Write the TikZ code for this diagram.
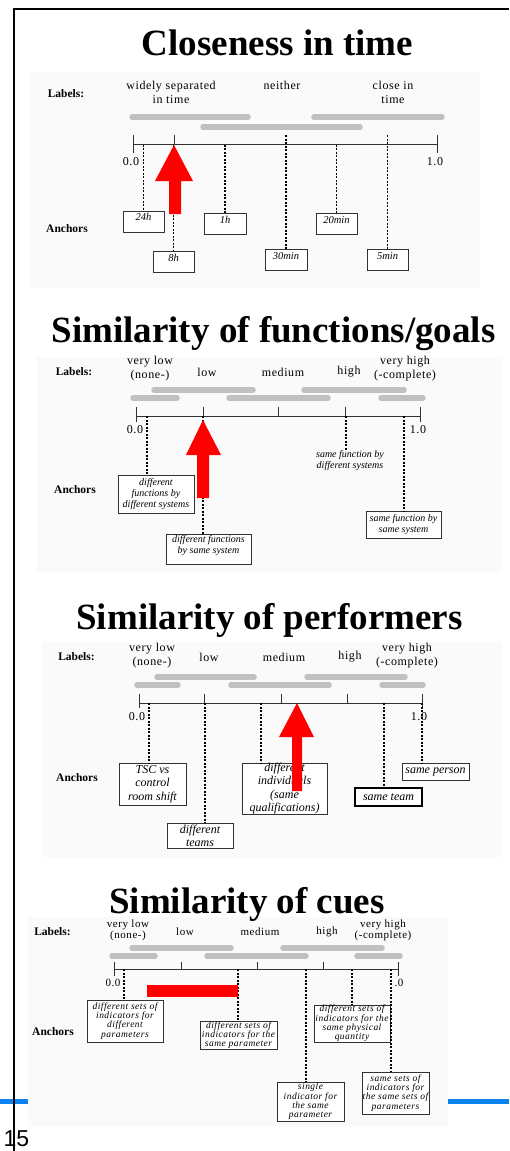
\documentclass[tikz,border=0pt]{standalone}
\usepackage{fontspec}
\setmainfont{Liberation Serif}
\newfontfamily\lblfont[LetterSpace=5]{Liberation Serif}
\newfontfamily\numfont{Liberation Sans}
\definecolor{barg}{RGB}{192,192,192}
\definecolor{axc}{RGB}{50,50,50}
\definecolor{panelc}{RGB}{250,250,250}
\definecolor{blueln}{RGB}{10,130,240}
\begin{document}
\begin{tikzpicture}[x=1pt,y=-1pt,
  ttl/.style={font=\bfseries\fontsize{37}{40}\selectfont, inner sep=0, anchor=base},
  hdr/.style={font=\bfseries\fontsize{11.5}{13}\selectfont, inner sep=0},
  lbl/.style={font=\lblfont\fontsize{12}{14}\selectfont, align=center, inner sep=0},
  lblsm/.style={font=\lblfont\fontsize{11}{11}\selectfont, align=center, inner sep=0},
  bar/.style={line width=5.5pt, line cap=round, draw=barg},
  axisl/.style={line width=0.8pt, draw=axc},
  anl/.style={line width=1.3pt, dash pattern=on 2.2pt off 1.3pt, draw=black},
  abox/.style={draw=axc, line width=0.8pt, fill=white, inner sep=0, align=center},
  boxa/.style={abox, font=\itshape\fontsize{10.5}{12}\selectfont, text height=9.5pt, text depth=11.5pt},
  boxb/.style={abox, font=\itshape\fontsize{10}{11}\selectfont},
  boxc/.style={abox, font=\itshape\fontsize{12}{13.3}\selectfont},
  boxd/.style={abox, font=\lblfont\itshape\fontsize{9.5}{9.3}\selectfont},
  redarr/.style={fill=red, draw=none},
  panel/.style={fill=panelc, draw=none}]
\useasboundingbox (0,0) rectangle (509,1151);

% background panels
\fill[panel] (30,72) rectangle (480,288);
\fill[panel] (37,357) rectangle (502,572);
\fill[panel] (42,643) rectangle (502,857);
\fill[panel] (28,917) rectangle (448,1127);

% blue rule and page number
\draw[draw=blueln, line width=4.5pt] (0,1101.5) -- (28,1101.5);
\draw[draw=blueln, line width=4.5pt] (448,1101.5) -- (509,1101.5);
\node[font=\numfont\fontsize{23}{23}\selectfont, anchor=base, inner sep=0] (pg) at (16.5,1146) {15};
% frame
\draw[line width=2pt] (14,1151) -- (14,9) -- (509,9);

% titles
\node[ttl] (t1) at (277.5,55) {Closeness in time};
\node[ttl] (t2) at (273.5,342) {Similarity of functions/goals};
\node[ttl] (t3) at (269.5,629) {Similarity of performers};
\node[ttl] (t4) at (247,913) {Similarity of cues};

%%%%%%%%%%%%%%%% Diagram 1
\node[hdr] (h1) at (66,94) {Labels:};
\node[hdr] (k1) at (67,229) {Anchors};
\node[lbl] (l1a) at (171,92) {widely separated\\in time};
\node[lbl] (l1b) at (282,85) {neither};
\node[lbl] (l1c) at (393,92) {close in\\time};
\draw[bar] (132,117) -- (248,117);
\draw[bar] (203,127) -- (360,127);
\draw[bar] (314,117) -- (442,117);
\coordinate (a1s) at (133,144.5);
\coordinate (a1e) at (437,144.5);
\draw[axisl] (a1s) -- (a1e);
\draw[axisl] (133,135) -- (133,153);
\draw[axisl] (437,135) -- (437,153);
\draw[axisl] (174,135) -- (174,144.5);
\node[lbl] (z1) at (131,162) {0.0};
\node[lbl] (o1) at (435,162) {1.0};
\node[boxa, minimum width=41pt] (b1a) at (143.5,221.5) {24h};
\node[boxa, minimum width=41pt] (b1b) at (173.5,262) {8h};
\node[boxa, minimum width=42pt] (b1c) at (225,224) {1h};
\node[boxa, minimum width=42pt] (b1d) at (286,260) {30min};
\node[boxa, minimum width=41pt] (b1e) at (336.5,224) {20min};
\node[boxa, minimum width=41pt] (b1f) at (387.5,260) {5min};
\coordinate (c1a) at (143.5,144.5);
\coordinate (c1b) at (173.5,144.5);
\coordinate (c1c) at (225,144.5);
\coordinate (c1d) at (286,135);
\coordinate (c1e) at (336.5,144.5);
\coordinate (c1f) at (387.5,135);
\draw[anl, line width=0.8pt] (c1a) -- (b1a.north);
\draw[anl] (c1b) -- (b1b.north);
\draw[anl] (c1c) -- (b1c.north);
\draw[anl] (c1d) -- (b1d.north);
\draw[anl] (c1e) -- (b1e.north);
\draw[anl] (c1f) -- (b1f.north);
\fill[redarr] (174,145) -- (193,181) -- (181,181) -- (181,214) -- (169,214) -- (169,181) -- (155,181) -- cycle;

%%%%%%%%%%%%%%%% Diagram 2
\node[hdr] (h2) at (74,372) {Labels:};
\node[hdr] (k2) at (75,490) {Anchors};
\node[lbl] (l2a) at (150,369) {very low\\(none-)};
\node[lbl] (l2b) at (207,372) {low};
\node[lbl] (l2c) at (283,372) {medium};
\node[lbl] (l2d) at (349,372) {high};
\node[lbl] (l2e) at (405,369) {very high\\(-complete)};
\draw[bar] (154,390) -- (253,390);
\draw[bar] (304,390) -- (404,390);
\draw[bar] (133,398) -- (177,398);
\draw[bar] (229,398) -- (328,398);
\draw[bar] (381,398) -- (423,398);
\coordinate (a2s) at (136,416);
\coordinate (a2e) at (420,416);
\draw[axisl] (a2s) -- (a2e);
\draw[axisl] (136,407) -- (136,422);
\draw[axisl] (420,407) -- (420,422);
\draw[axisl] (203,407) -- (203,416);
\draw[axisl] (278,407) -- (278,416);
\draw[axisl] (345,407) -- (345,416);
\node[lbl] (z2) at (135,430) {0.0};
\node[lbl] (o2) at (418,430) {1.0};
\node[boxb, minimum width=76pt, minimum height=38pt] (b2a) at (156,494) {different\\functions by\\different systems};
\node[boxb, minimum width=85pt, minimum height=30pt, text depth=10pt] (b2b) at (208.5,549) {different functions\\by same system};
\node[font=\itshape\fontsize{10}{11}\selectfont, align=center, inner sep=0] (b2c) at (350,461) {same function by\\different systems};
\node[boxb, minimum width=75pt, minimum height=27pt] (b2d) at (403.5,524.5) {same function by\\same system};
\coordinate (c2a) at (147,416);
\coordinate (c2b) at (203,416);
\coordinate (c2c) at (346,416);
\coordinate (c2d) at (404,416);
\draw[anl] (c2a) -- (c2a |- b2a.north);
\draw[anl] (c2b) -- (c2b |- b2b.north);
\draw[anl] (c2c) -- (c2c |- b2c.north);
\draw[anl] (c2d) -- (c2d |- b2d.north);
\fill[redarr] (203,420) -- (221,455) -- (209,455) -- (209,498) -- (197,498) -- (197,455) -- (186,455) -- cycle;

%%%%%%%%%%%%%%%% Diagram 3
\node[hdr] (h3) at (76.5,657) {Labels:};
\node[hdr] (k3) at (77,778) {Anchors};
\node[lbl] (l3a) at (152,655.5) {very low\\(none-)};
\node[lbl] (l3b) at (209,657) {low};
\node[lbl] (l3c) at (284,657) {medium};
\node[lbl] (l3d) at (350,657) {high};
\node[lbl] (l3e) at (407,655.5) {very high\\(-complete)};
\draw[bar] (157,677) -- (254,677);
\draw[bar] (307,677) -- (405,677);
\draw[bar] (137,685) -- (178,685);
\draw[bar] (231,685) -- (329,685);
\draw[bar] (382,685) -- (423,685);
\coordinate (a3s) at (139,703);
\coordinate (a3e) at (422,703);
\draw[axisl] (a3s) -- (a3e);
\draw[axisl] (139,694) -- (139,708);
\draw[axisl] (422,694) -- (422,708);
\draw[axisl] (204,694) -- (204,703);
\draw[axisl] (281,694) -- (281,703);
\draw[axisl] (347,694) -- (347,703);
\node[lbl] (z3) at (137,717) {0.0};
\node[lbl] (o3) at (419,717) {1.0};
\node[boxc, minimum width=67pt, minimum height=42pt] (b3a) at (152.5,784) {TSC vs\\control\\room shift};
\node[boxc, minimum width=66pt, minimum height=25pt] (b3b) at (200,835.5) {different\\teams};
\node[boxc, minimum width=85pt, minimum height=51pt] (b3c) at (284.5,788.5) {different\\individuals\\(same\\qualifications)};
\node[boxc, minimum width=67pt, minimum height=18pt, line width=1.5pt, draw=black] (b3d) at (388.5,797) {same team};
\node[boxc, minimum width=67pt, minimum height=17pt] (b3e) at (435.5,771.5) {same person};
\coordinate (c3a) at (149,703);
\coordinate (c3b) at (205,703);
\coordinate (c3c) at (261,703);
\coordinate (c3d) at (384,703);
\coordinate (c3e) at (422,703);
\draw[anl] (c3a) -- (c3a |- b3a.north);
\draw[anl] (c3b) -- (c3b |- b3b.north);
\draw[anl] (c3c) -- (c3c |- b3c.north);
\draw[anl] (c3d) -- (c3d |- b3d.north);
\draw[anl] (c3e) -- (c3e |- b3e.north);
\fill[redarr] (297,703) -- (314,737) -- (302,737) -- (302,791) -- (292,791) -- (292,737) -- (279,737) -- cycle;

%%%%%%%%%%%%%%%% Diagram 4
\node[hdr] (h4) at (52.5,932) {Labels:};
\node[hdr] (k4) at (53,1032) {Anchors};
\node[lblsm] (l4a) at (128,930.5) {very low\\(none-)};
\node[lblsm] (l4b) at (185,932) {low};
\node[lblsm] (l4c) at (260,932) {medium};
\node[lblsm] (l4d) at (327,932) {high};
\node[lblsm] (l4e) at (383,930.5) {very high\\(-complete)};
\draw[bar] (132,948) -- (231,948);
\draw[bar] (283,948) -- (382,948);
\draw[bar] (112,956) -- (155,956);
\draw[bar] (207,956) -- (306,956);
\draw[bar] (357,956) -- (400,956);
\coordinate (a4s) at (114,969);
\coordinate (a4e) at (398,969);
\draw[axisl] (a4s) -- (a4e);
\draw[axisl] (114,962) -- (114,976);
\draw[axisl] (398,962) -- (398,976);
\draw[axisl] (181,962) -- (181,969);
\draw[axisl] (257,962) -- (257,969);
\draw[axisl] (323,962) -- (323,969);
\node[lblsm] (z4) at (113,983) {0.0};
\node[lblsm] (o4) at (399,983) {.0};
\node[boxd, minimum width=76pt, minimum height=42pt] (b4a) at (125,1021) {different sets of\\indicators for\\different\\parameters};
\node[boxd, minimum width=77pt, minimum height=28pt] (b4b) at (238.5,1035) {different sets of\\indicators for the\\same parameter};
\node[boxd, minimum width=76pt, minimum height=37pt] (b4c) at (352,1023.5) {different sets of\\indicators for the\\same physical\\quantity};
\node[boxd, minimum width=67pt, minimum height=39pt] (b4d) at (310.5,1101.5) {single\\indicator for\\the same\\parameter};
\node[boxd, minimum width=67pt, minimum height=42pt] (b4e) at (395.5,1093) {same sets of\\indicators for\\the same sets of\\parameters};
\coordinate (c4a) at (124,969);
\coordinate (c4b) at (238,969);
\coordinate (c4c) at (306,969);
\coordinate (c4d) at (352,969);
\coordinate (c4e) at (391,969);
\draw[anl] (c4a) -- (c4a |- b4a.north);
\draw[anl] (c4b) -- (c4b |- b4b.north);
\draw[anl] (c4c) -- (c4c |- b4d.north);
\draw[anl] (c4d) -- (c4d |- b4c.north);
\draw[anl] (c4e) -- (c4e |- b4e.north);
\fill[redarr] (147,985) rectangle (238,997);
\end{tikzpicture}
\end{document}
